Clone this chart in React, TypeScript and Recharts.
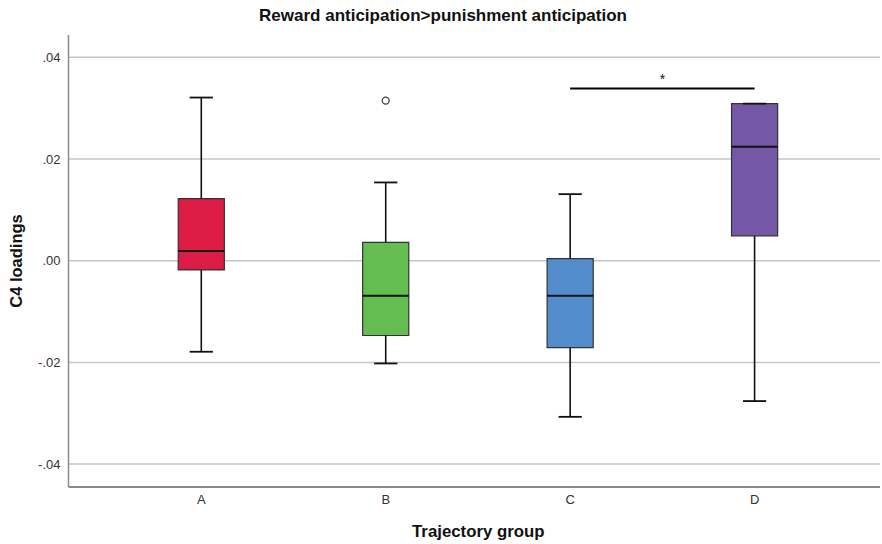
import React from 'react';
import {
  ComposedChart,
  XAxis,
  YAxis,
  ReferenceArea,
  ReferenceLine,
  Scatter,
} from 'recharts';

const categories = ['A', 'B', 'C', 'D'];
const colors = ['#dc1c45', '#63bd50', '#538dcd', '#7458a6'];
const whiskerHigh = [0.0321, 0.0154, 0.0131, 0.0309];
const q3 = [0.0122, 0.0036, 0.0004, 0.0309];
const median = [0.0019, -0.0069, -0.0069, 0.0224];
const q1 = [-0.0018, -0.0147, -0.0171, 0.0049];
const whiskerLow = [-0.0179, -0.0202, -0.0307, -0.0276];
const outliers = [{ x: 1, y: 0.0315 }];
const yTicks = [-0.04, -0.02, 0, 0.02, 0.04];
const sigBracket = { from: 2, to: 3, y: 0.0339, label: '*' };

const FONT = '"Liberation Sans", Arial, sans-serif';
const BOX_HALF = 0.125;
const CAP_HALF = 0.063;
const X_DOMAIN: [number, number] = [-0.72, 3.68];

const fmt = (v: number) => {
  const s = Math.abs(v).toFixed(2).replace(/^0/, '');
  return v < 0 ? '-' + s : s;
};

const OutlierShape = (props: any) => (
  <circle cx={props.cx} cy={props.cy} r={3.5} fill="#fff" stroke="#444" strokeWidth={1.3} />
);

export default function App() {
  const grid = yTicks.map((t) => (
    <ReferenceLine
      key={`g${t}`}
      segment={[{ x: X_DOMAIN[0], y: t }, { x: X_DOMAIN[1], y: t }]}
      stroke="#c6c6c6"
      strokeWidth={1.5}
      zIndex={-50}
    />
  ));

  const boxes: React.ReactNode[] = [];
  categories.forEach((c, i) => {
    boxes.push(
      <ReferenceLine
        key={`wh${i}`}
        segment={[{ x: i, y: q3[i] }, { x: i, y: whiskerHigh[i] }]}
        stroke="#111"
        strokeWidth={1.6}
      />,
      <ReferenceLine
        key={`wl${i}`}
        segment={[{ x: i, y: q1[i] }, { x: i, y: whiskerLow[i] }]}
        stroke="#111"
        strokeWidth={1.6}
      />,
      <ReferenceLine
        key={`ch${i}`}
        segment={[{ x: i - CAP_HALF, y: whiskerHigh[i] }, { x: i + CAP_HALF, y: whiskerHigh[i] }]}
        stroke="#111"
        strokeWidth={1.8}
      />,
      <ReferenceLine
        key={`cl${i}`}
        segment={[{ x: i - CAP_HALF, y: whiskerLow[i] }, { x: i + CAP_HALF, y: whiskerLow[i] }]}
        stroke="#111"
        strokeWidth={1.8}
      />,
      <ReferenceArea
        key={`b${i}`}
        x1={i - BOX_HALF}
        x2={i + BOX_HALF}
        y1={q1[i]}
        y2={q3[i]}
        fill={colors[i]}
        fillOpacity={1}
        stroke="#333"
        strokeWidth={1.2}
      />,
      <ReferenceLine
        key={`m${i}`}
        segment={[{ x: i - BOX_HALF, y: median[i] }, { x: i + BOX_HALF, y: median[i] }]}
        stroke="#111"
        strokeWidth={2}
      />
    );
  });

  return (
    <div style={{ position: 'absolute', left: 0, top: 0, width: 882, height: 544, background: '#fff' }}>
      <div
        style={{
          position: 'absolute',
          left: 0,
          top: 6,
          width: 886,
          textAlign: 'center',
          fontFamily: FONT,
          fontWeight: 'bold',
          fontSize: 17,
          lineHeight: '20px',
          color: '#111',
        }}
      >
        Reward anticipation&gt;punishment anticipation
      </div>
      <ComposedChart
        width={882}
        height={544}
        margin={{ top: 35, right: 2, left: 8.5, bottom: 27 }}
        style={{ fontFamily: FONT }}
      >
        <XAxis
          type="number"
          dataKey="x"
          domain={X_DOMAIN}
          ticks={[0, 1, 2, 3]}
          tickFormatter={(v: number) => categories[v] ?? ''}
          axisLine={{ stroke: '#8a8a8a', strokeWidth: 2 }}
          tickLine={false}
          height={30}
          tick={{ fill: '#333', fontSize: 13 }}
          allowDataOverflow
          label={{
            value: 'Trajectory group',
            position: 'bottom',
            offset: 8,
            dx: 4,
            style: { fontWeight: 'bold', fontSize: 16.8, fill: '#111' },
          }}
        />
        <YAxis
          type="number"
          dataKey="y"
          domain={[-0.0445, 0.0444]}
          ticks={yTicks}
          tickFormatter={fmt}
          axisLine={{ stroke: '#8a8a8a', strokeWidth: 1.5 }}
          tickLine={false}
          width={60}
          tick={{ fill: '#333', fontSize: 13 }}
          allowDataOverflow
          label={{
            value: 'C4 loadings',
            angle: -90,
            position: 'insideLeft',
            offset: 8,
            style: { fontWeight: 'bold', fontSize: 16.5, fill: '#111', textAnchor: 'middle' },
          }}
        />
        {grid}
        {boxes}
        <ReferenceLine
          segment={[{ x: sigBracket.from, y: sigBracket.y }, { x: sigBracket.to, y: sigBracket.y }]}
          stroke="#000"
          strokeWidth={2}
          label={{ value: sigBracket.label, position: 'top', offset: 4, fill: '#111', fontSize: 14 }}
        />
        <Scatter data={outliers} dataKey="y" shape={<OutlierShape />} isAnimationActive={false} />
      </ComposedChart>
    </div>
  );
}
